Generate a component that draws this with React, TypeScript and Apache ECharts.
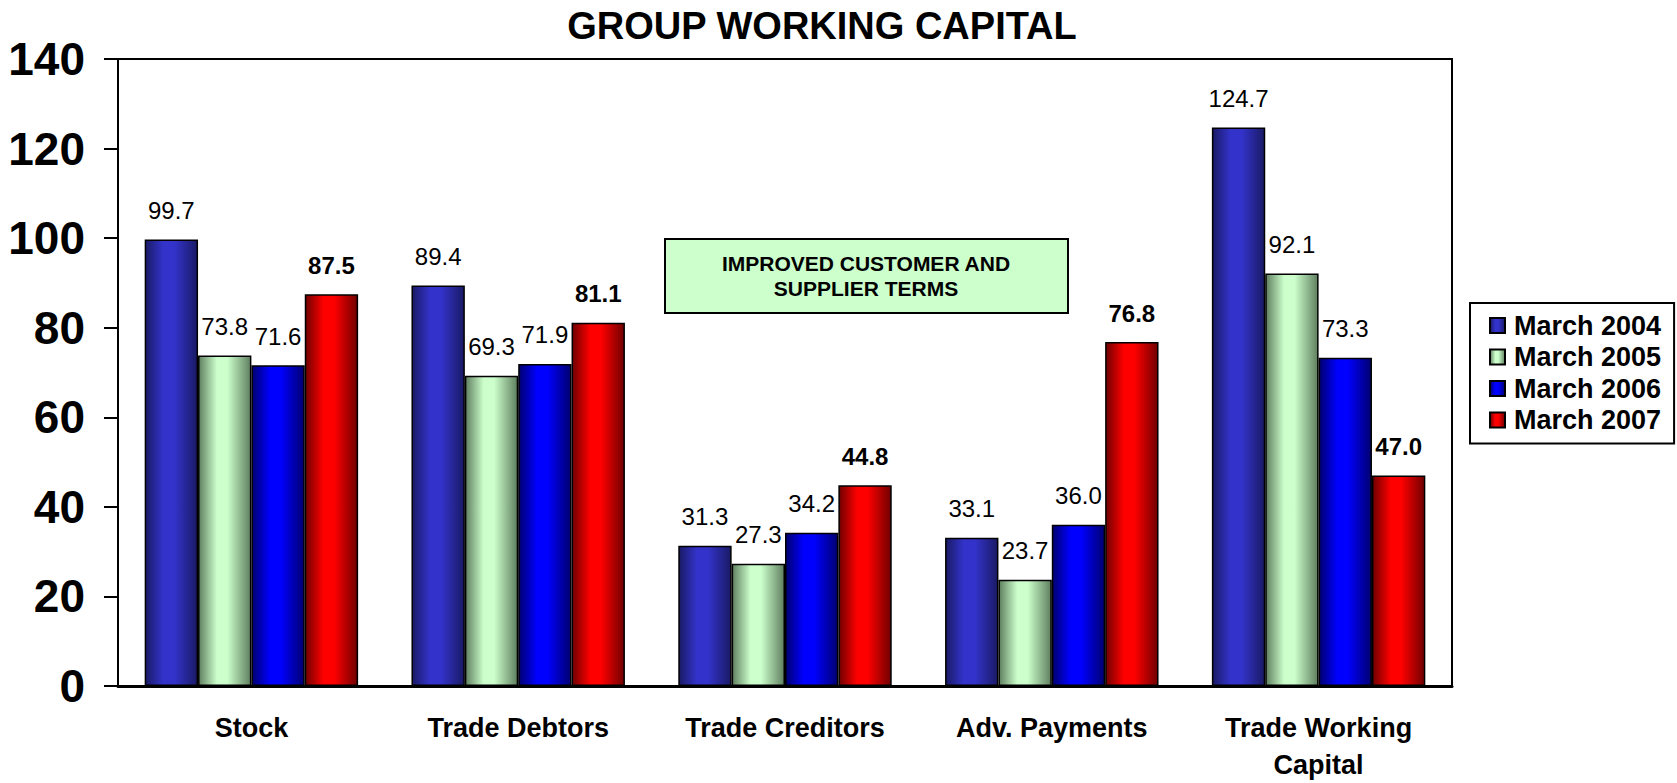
import React, { useEffect, useRef } from 'react';
import * as echarts from 'echarts';

const FONT = '"Liberation Sans", Arial, sans-serif';

const categories = ['Stock', 'Trade Debtors', 'Trade Creditors', 'Adv. Payments', 'Trade Working\nCapital'];
const seriesNames = ['March 2004', 'March 2005', 'March 2006', 'March 2007'];
const march2004 = [99.7, 89.4, 31.3, 33.1, 124.7];
const march2005 = [73.8, 69.3, 27.3, 23.7, 92.1];
const march2006 = [71.6, 71.9, 34.2, 36.0, 73.3];
const march2007 = [87.5, 81.1, 44.8, 76.8, 47.0];
const seriesData = [march2004, march2005, march2006, march2007];
const darkColors = ['#1a1a66', '#5f7f5f', '#000070', '#700000'];
const baseColors = ['#3333cc', '#ccffcc', '#0000ff', '#ff0000'];
const labelWeights = ['normal', 'normal', 'normal', 'bold'];
const annotationText = 'IMPROVED CUSTOMER AND\nSUPPLIER TERMS';

const grad = (dark: string, base: string) =>
  new echarts.graphic.LinearGradient(0, 0, 1, 0, [
    { offset: 0, color: dark },
    { offset: 0.35, color: base },
    { offset: 0.55, color: base },
    { offset: 1, color: dark },
  ]);

export default function App() {
  const ref = useRef<HTMLDivElement>(null);
  useEffect(() => {
    if (!ref.current) return;
    const chart = echarts.init(ref.current, undefined, { renderer: 'svg' });
    const option: any = {
      animation: false,
      backgroundColor: '#ffffff',
      title: {
        text: 'GROUP WORKING CAPITAL',
        left: 817,
        top: 2,
        textAlign: 'center',
        textStyle: { fontFamily: FONT, fontSize: 38, fontWeight: 'bold', color: '#000' },
      },
      legend: {
        orient: 'vertical',
        left: 1470,
        top: 303,
        data: seriesNames,
        icon: 'rect',
        itemWidth: 15,
        itemHeight: 15,
        itemGap: 4.5,
        padding: [9, 13, 10, 19],
        borderColor: '#000',
        borderWidth: 2,
        backgroundColor: '#fff',
        textStyle: { fontFamily: FONT, fontSize: 27, fontWeight: 'bold', color: '#000', lineHeight: 27, padding: [0, 0, 0, 4] },
      },
      grid: {
        left: 118,
        right: 225,
        top: 59,
        bottom: 97,
        show: true,
        borderColor: '#000',
        borderWidth: 2,
        backgroundColor: '#fff',
      },
      xAxis: {
        type: 'category',
        data: categories,
        axisLine: { show: true, lineStyle: { color: '#000', width: 3 } },
        axisTick: { show: false },
        axisLabel: {
          fontFamily: FONT,
          fontSize: 27,
          fontWeight: 'bold',
          color: '#000',
          lineHeight: 37,
          margin: 23,
          interval: 0,
        },
        splitLine: { show: false },
      },
      yAxis: {
        type: 'value',
        min: 0,
        max: 140,
        interval: 20,
        axisLine: { show: true, lineStyle: { color: '#000', width: 2 } },
        axisTick: { show: true, inside: false, length: 14, lineStyle: { color: '#000', width: 2 } },
        axisLabel: { fontFamily: FONT, fontSize: 46, fontWeight: 'bold', color: '#000', margin: 33 },
        splitLine: { show: false },
      },
      series: seriesNames.map((name, i) => ({
        name,
        type: 'bar',
        data: seriesData[i],
        barGap: '0%',
        barCategoryGap: '20%',
        itemStyle: {
          color: grad(darkColors[i], baseColors[i]),
          borderColor: '#000',
          borderWidth: 1.5,
        },
        label: {
          show: true,
          position: 'top',
          distance: 17,
          fontFamily: FONT,
          fontSize: 24,
          fontWeight: labelWeights[i],
          color: '#000',
          formatter: (p: any) => Number(p.value).toFixed(1),
        },
      })),
      graphic: [
        {
          type: 'rect',
          shape: { x: 665, y: 239, width: 403, height: 74 },
          style: { fill: '#ccffcc', stroke: '#000', lineWidth: 2 },
          z: 10,
        },
        {
          type: 'text',
          x: 866,
          y: 276,
          z: 11,
          style: {
            text: annotationText,
            fontFamily: FONT,
            fontSize: 21,
            fontWeight: 'bold',
            fill: '#000',
            align: 'center',
            verticalAlign: 'middle',
            lineHeight: 25,
          },
        },
      ],
    };
    chart.setOption(option);
    return () => chart.dispose();
  }, []);
  return (
    <div
      ref={ref}
      style={{ position: 'fixed', left: 0, top: 0, width: 1677, height: 783, background: '#fff' }}
    />
  );
}
